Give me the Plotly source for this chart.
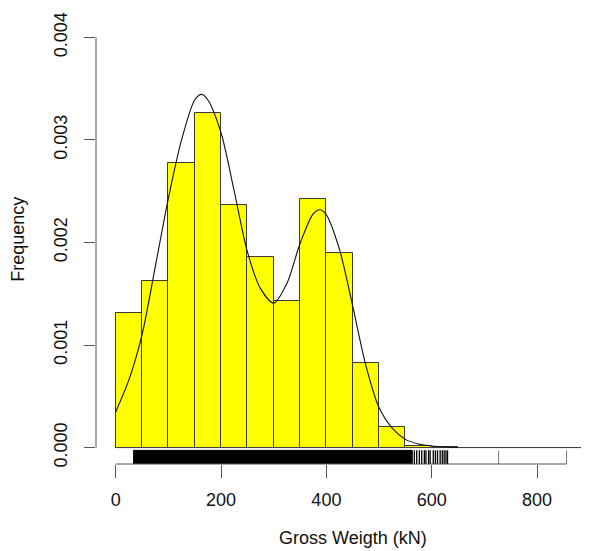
import plotly.graph_objects as go

# ---------------- data ----------------
bin_edges = [0, 50, 100, 150, 200, 250, 300, 350, 400, 450, 500, 550, 600, 650,
             700, 750, 800, 850, 900]
bin_density = [0.001317, 0.001625, 0.002780, 0.003261, 0.002361, 0.001863,
               0.001427, 0.002420, 0.001893, 0.000822, 0.000198, 0.000020,
               0.000008, 0.0, 0.0, 0.0, 0.0, 0.0]

curve_x = [0, 25, 50, 75, 100, 125, 150, 163, 175, 200, 225, 250, 275, 300,
           325, 350, 375, 388, 400, 425, 450, 475, 500, 525, 550, 575, 600,
           625, 650]
curve_y = [0.000347, 0.00066, 0.00110, 0.00176, 0.00243, 0.00300, 0.00339,
           0.003444, 0.00339, 0.00307, 0.00250, 0.00191, 0.00155, 0.00141,
           0.00160, 0.00199, 0.00228, 0.00232, 0.00227, 0.00193, 0.00138,
           0.00080, 0.00039, 0.00019, 0.00008, 0.000035, 0.000015, 0.000006,
           0.000002]

rug_dense_span = [34, 563]
rug_sparse = [567, 571.5, 576.5, 581, 586, 589, 594, 597, 603, 607, 611, 616,
              620, 623.6, 627, 630]
rug_outliers = [727, 856]

x_ticks = [0, 200, 400, 600, 800]
y_ticks = [0.000, 0.001, 0.002, 0.003, 0.004]
y_ticktext = ["0.000", "0.001", "0.002", "0.003", "0.004"]

x_title = "Gross Weigth (kN)"
y_title = "Frequency"

# ---------------- figure ----------------
FONT = "Liberation Sans, Arial, sans-serif"
AXC = "#555555"
y_lo, y_hi = -0.00016, 0.00416
rug_top = -0.000027

centers = [(a + b) / 2 for a, b in zip(bin_edges[:-1], bin_edges[1:])]
widths = [b - a for a, b in zip(bin_edges[:-1], bin_edges[1:])]

fig = go.Figure()

# baseline of the (empty) bins
fig.add_trace(go.Scatter(x=[bin_edges[0], bin_edges[-1]], y=[0, 0], mode="lines",
                         line=dict(color="#444444", width=1), hoverinfo="skip"))

fig.add_trace(go.Bar(x=centers, y=bin_density, width=widths,
                     marker=dict(color="#FFFF00", line=dict(color="#3a3a3a", width=1))))

fig.add_trace(go.Scatter(x=curve_x, y=curve_y, mode="lines",
                         line=dict(color="#111111", width=1.1, shape="spline", smoothing=0.8),
                         hoverinfo="skip"))

# rug: dense block
fig.add_trace(go.Scatter(
    x=[rug_dense_span[0], rug_dense_span[1], rug_dense_span[1], rug_dense_span[0], rug_dense_span[0]],
    y=[y_lo, y_lo, rug_top, rug_top, y_lo],
    mode="lines", fill="toself", fillcolor="#000000",
    line=dict(color="#000000", width=1), hoverinfo="skip"))

# rug: separate ticks
def segs(xs):
    xx, yy = [], []
    for v in xs:
        xx += [v, v, None]
        yy += [y_lo, rug_top, None]
    return xx, yy

sx, sy = segs(rug_sparse)
fig.add_trace(go.Scatter(x=sx, y=sy, mode="lines",
                         line=dict(color="#000000", width=1.3), hoverinfo="skip"))
ox, oy = segs(rug_outliers)
fig.add_trace(go.Scatter(x=ox, y=oy, mode="lines",
                         line=dict(color="#777777", width=1), hoverinfo="skip"))

# axis lines (R style: only between extreme ticks / rug range)
x_line_end = max(x_ticks[-1], max(rug_sparse + rug_outliers))
fig.add_shape(type="line", xref="x", yref="paper", x0=min(x_ticks[0], rug_dense_span[0]),
              x1=x_line_end, y0=0, y1=0, line=dict(color=AXC, width=1), layer="above")
fig.add_shape(type="line", xref="paper", yref="y", x0=0, x1=0, y0=y_ticks[0], y1=y_ticks[-1],
              line=dict(color=AXC, width=1), layer="above")

fig.add_annotation(text=x_title, xref="paper", yref="paper", x=0.5213, y=-0.167,
                   xanchor="center", yanchor="middle", showarrow=False,
                   font=dict(family=FONT, size=18, color="#111111"))
fig.add_annotation(text=y_title, xref="paper", yref="paper", x=-0.157, y=0.5075,
                   xanchor="center", yanchor="middle", showarrow=False, textangle=-90,
                   font=dict(family=FONT, size=18, color="#111111"))

# the page body adds an 8px offset, so the figure is 8px smaller on each axis
fig.update_layout(
    width=581, height=543,
    margin=dict(l=88, r=0, t=13, b=87, pad=0, autoexpand=False),
    paper_bgcolor="white", plot_bgcolor="white",
    showlegend=False, bargap=0,
    font=dict(family=FONT, size=18, color="#111111"),
    xaxis=dict(range=[-37.4, 898.6], tickvals=x_ticks, ticktext=[str(v) for v in x_ticks],
               ticks="outside", ticklen=13, tickwidth=1, tickcolor=AXC, automargin=False,
               showgrid=False, zeroline=False, showline=False, ticklabelstandoff=6,
               tickfont=dict(family=FONT, size=18, color="#111111")),
    yaxis=dict(range=[y_lo, y_hi], tickvals=y_ticks, ticktext=y_ticktext, tickangle=-90,
               ticks="outside", ticklen=11, tickwidth=1, tickcolor=AXC, automargin=False,
               showgrid=False, zeroline=False, showline=False, ticklabelstandoff=10,
               tickfont=dict(family=FONT, size=18, color="#111111")),
)

fig.write_html("out.html")
